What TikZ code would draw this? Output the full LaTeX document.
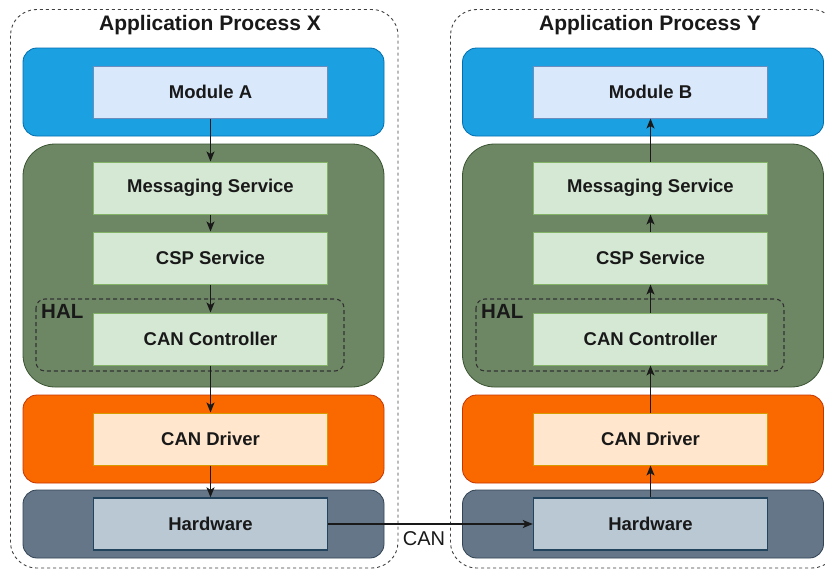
\documentclass[tikz,border=0pt]{standalone}
\usepackage{fontspec}
\setmainfont{Liberation Sans}
\usetikzlibrary{arrows.meta}

\definecolor{bandblue}{HTML}{1BA1E2}
\definecolor{bandblueline}{HTML}{006EAF}
\definecolor{boxblue}{HTML}{DAE8FC}
\definecolor{boxblueline}{HTML}{6C8EBF}
\definecolor{bandgreen}{HTML}{6D8764}
\definecolor{bandgreenline}{HTML}{3A5431}
\definecolor{boxgreen}{HTML}{D5E8D4}
\definecolor{boxgreenline}{HTML}{82B366}
\definecolor{bandorange}{HTML}{FA6800}
\definecolor{bandorangeline}{HTML}{C73500}
\definecolor{boxorange}{HTML}{FFE6CC}
\definecolor{boxorangeline}{HTML}{D79B00}
\definecolor{bandgray}{HTML}{647687}
\definecolor{bandgrayline}{HTML}{314354}
\definecolor{boxgray}{HTML}{BAC8D3}
\definecolor{boxgrayline}{HTML}{23445D}

\tikzset{
  process/.style={draw=black!75, line width=0.9pt, dash pattern=on 3pt off 3pt,
    rounded corners=26pt},
  band/.style={rectangle, line width=0.8pt, minimum width=361pt, inner sep=0pt},
  blueband/.style={band, fill=bandblue, draw=bandblueline, rounded corners=14pt, minimum height=88pt},
  greenband/.style={band, fill=bandgreen, draw=bandgreenline, rounded corners=32pt, minimum height=243pt},
  orangeband/.style={band, fill=bandorange, draw=bandorangeline, rounded corners=14pt, minimum height=88pt},
  grayband/.style={band, fill=bandgray, draw=bandgrayline, rounded corners=14pt, minimum height=68pt},
  layer/.style={rectangle, line width=1pt, minimum width=234pt, minimum height=52pt,
    inner sep=0pt, font=\fontsize{18.5}{22}\selectfont\bfseries, text=black!90},
  bluebox/.style={layer, fill=boxblue, draw=boxblueline},
  greenbox/.style={layer, fill=boxgreen, draw=boxgreenline},
  orangebox/.style={layer, fill=boxorange, draw=boxorangeline},
  graybox/.style={layer, fill=boxgray, draw=boxgrayline, line width=1.4pt},
  halbox/.style={draw=black!80, line width=1.1pt, dash pattern=on 4pt off 3pt,
    rounded corners=9pt},
  title/.style={font=\fontsize{21}{25}\selectfont\bfseries, text=black!90, inner sep=0pt},
  hallabel/.style={font=\fontsize{20.5}{24}\selectfont\bfseries, text=black!90, inner sep=0pt},
  buslabel/.style={font=\fontsize{20}{24}\selectfont, text=black!90, inner sep=0pt},
  flow/.style={draw=black!90, line width=1.2pt, -{Stealth[length=10pt,width=8pt,inset=2.5pt]}},
}

\begin{document}
\begin{tikzpicture}[x=1pt, y=-1pt]
  \useasboundingbox (0,0) rectangle (825,570);
  \clip (0,0) rectangle (825,570);
  \fill[white] (0,0) rectangle (825,570);

  % process frames
  \draw[process] (10.5,9.5) rectangle (398,568);
  \draw[process] (450.5,9.5) rectangle (838,568);
  \node[title] (tx) at (210,25.5) {Application Process X};
  \node[title] (ty) at (650,25.5) {Application Process Y};

  % layer bands, process X
  \node[blueband]   (bx) at (203.5,92)  {};
  \node[greenband]  (gx) at (203.5,265.5) {};
  \node[orangeband] (ox) at (203.5,439) {};
  \node[grayband]   (hx) at (203.5,524) {};
  % layer bands, process Y
  \node[blueband]   (by) at (643,92)  {};
  \node[greenband]  (gy) at (643,265.5) {};
  \node[orangeband] (oy) at (643,439) {};
  \node[grayband]   (hy) at (643,524) {};

  % HAL frames
  \draw[halbox] (36,299) rectangle (344,371);
  \node[hallabel, anchor=north west] (halx) at (41,304) {HAL};
  \draw[halbox] (476,299) rectangle (784,371);
  \node[hallabel, anchor=north west] (haly) at (481,304) {HAL};

  % components, process X
  \node[bluebox]   (modA) at (210.5,92)  {Module A};
  \node[greenbox]  (msgX) at (210.5,188) {Messaging Service};
  \node[greenbox]  (cspX) at (210.5,258) {CSP Service};
  \node[greenbox]  (canX) at (210.5,339) {CAN Controller};
  \node[orangebox] (drvX) at (210.5,439) {CAN Driver};
  \node[graybox]   (hwX)  at (210.5,524) {Hardware};

  % components, process Y
  \node[bluebox]   (modB) at (650.5,92)  {Module B};
  \node[greenbox]  (msgY) at (650.5,188) {Messaging Service};
  \node[greenbox]  (cspY) at (650.5,258) {CSP Service};
  \node[greenbox]  (canY) at (650.5,339) {CAN Controller};
  \node[orangebox] (drvY) at (650.5,439) {CAN Driver};
  \node[graybox]   (hwY)  at (650.5,524) {Hardware};

  % downward flow in X
  \draw[flow] (modA) -- (msgX);
  \draw[flow] (msgX) -- (cspX);
  \draw[flow] (cspX) -- (canX);
  \draw[flow] (canX) -- (drvX);
  \draw[flow] (drvX) -- (hwX);

  % upward flow in Y
  \draw[flow] (hwY) -- (drvY);
  \draw[flow] (drvY) -- (canY);
  \draw[flow] (canY) -- (cspY);
  \draw[flow] (cspY) -- (msgY);
  \draw[flow] (msgY) -- (modB);

  % CAN bus
  \draw[flow] (hwX) -- (hwY);
  \node[buslabel] (canlbl) at (424,538.5) {CAN};
\end{tikzpicture}
\end{document}
